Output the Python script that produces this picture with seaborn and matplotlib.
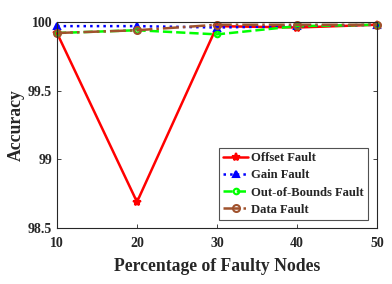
import matplotlib
matplotlib.use("Agg")
import matplotlib.pyplot as plt
import seaborn as sns
import pandas as pd

x_vals = [10, 20, 30, 40, 50]
offset_fault = [99.92, 98.69, 99.97, 99.96, 99.98]
gain_fault = [99.97, 99.97, 99.96, 99.97, 99.98]
oob_fault = [99.92, 99.94, 99.91, 99.97, 99.98]
data_fault = [99.92, 99.94, 99.98, 99.98, 99.98]
series_names = ["Offset Fault", "Gain Fault", "Out-of-Bounds Fault", "Data Fault"]
x_ticks = [10, 20, 30, 40, 50]
y_ticks = [98.5, 99, 99.5, 100]
y_tick_labels = ["98.5", "99", "99.5", "100"]

sns.set_style("ticks")
plt.rcParams['font.family'] = ['Liberation Serif', 'DejaVu Serif']
plt.rcParams['font.weight'] = 'bold'

fig = plt.figure(figsize=(3.92, 2.84), dpi=100)
ax = fig.add_axes([0.1454, 0.197, 0.8163, 0.7255])

styles = [
    dict(color="#ff0000", linestyle="-", marker="*", markersize=6, lw=1.8),
    dict(color="#0000ff", linestyle=":", marker="^", markersize=5, lw=1.8),
    dict(color="#00ff00", linestyle="--", marker="o", markersize=4, lw=1.8),
    dict(color="#a0522d", linestyle="-.", marker="o", markersize=5, lw=1.8),
]
all_vals = [offset_fault, gain_fault, oob_fault, data_fault]
for name, vals, st in zip(series_names, all_vals, styles):
    df = pd.DataFrame({"x": x_vals, "y": vals})
    sns.lineplot(data=df, x="x", y="y", ax=ax, label=name,
                 color=st["color"], linestyle=st["linestyle"], marker=st["marker"],
                 markersize=st["markersize"], linewidth=st["lw"],
                 markeredgecolor=st["color"], markerfacecolor="none" if st["marker"] == "o" else st["color"],
                 markeredgewidth=1.5, clip_on=False)

ax.set_xlim(10, 50)
ax.set_ylim(98.5, 100)
ax.set_xticks(x_ticks)
ax.set_xticklabels([str(t) for t in x_ticks], fontsize=10, fontweight='bold')
ax.set_yticks(y_ticks)
ax.set_yticklabels(y_tick_labels, fontsize=10, fontweight='bold')
ax.tick_params(direction='in', top=True, right=True, length=3, width=0.6, colors='#262626')
ax.tick_params(axis='x', pad=6.5)
ax.tick_params(axis='y', pad=3.5)
for s in ax.spines.values():
    s.set_visible(True)
    s.set_linewidth(0.8)
    s.set_color('#262626')
ax.set_xlabel("Percentage of Faulty Nodes", fontsize=12.7, fontweight='bold', labelpad=5.5)
ax.set_ylabel("Accuracy", fontsize=12.7, fontweight='bold', labelpad=2)

leg = ax.legend(loc='lower right', bbox_to_anchor=(0.972, 0.039), prop={'size': 9.1, 'weight': 'bold'},
                frameon=True, fancybox=False, edgecolor='#262626', handlelength=2.0,
                handletextpad=0.2, borderpad=0.35, labelspacing=0.4, borderaxespad=0.0)
leg.get_frame().set_linewidth(0.8)

fig.savefig("out.png", dpi=100)
